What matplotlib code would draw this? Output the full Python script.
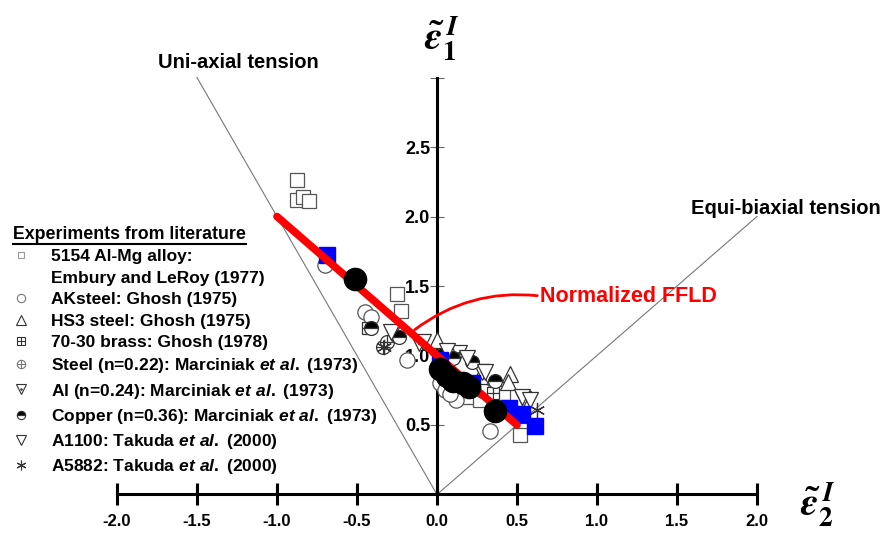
import matplotlib.pyplot as plt
import numpy as np
from matplotlib.lines import Line2D

plt.rcParams['font.family'] = 'Liberation Sans'
plt.rcParams['font.weight'] = 'bold'
plt.rcParams['mathtext.fontset'] = 'custom'
plt.rcParams['mathtext.it'] = 'Liberation Sans:italic:bold'
plt.rcParams['mathtext.rm'] = 'Liberation Sans:bold'

# data (normalized strains e2, e1)
almg_x = [-0.875, -0.875, -0.84, -0.80, -0.25, -0.225, 0.20, 0.27, 0.52, 0.41]
almg_y = [2.26, 2.12, 2.14, 2.11, 1.44, 1.32, 0.70, 0.68, 0.43, 0.73]
aks_x = [-0.70, -0.45, -0.41, -0.19, 0.02, 0.05, 0.12, 0.08, 0.33, 0.28]
aks_y = [1.65, 1.31, 1.28, 0.97, 0.80, 0.75, 0.68, 0.72, 0.46, 0.75]
hs3_x = [0.0, 0.455, 0.445, 0.27]
hs3_y = [1.11, 0.87, 0.81, 0.85]
brass_x = [-0.43, 0.35, 0.54, 0.42, 0.07]
brass_y = [1.20, 0.73, 0.56, 0.62, 0.95]
steel_x = [-0.34, -0.31]
steel_y = [1.06, 1.10]
al_x = [-0.28, -0.11, 0.14, 0.28, 0.54]
al_y = [1.16, 1.09, 1.02, 0.88, 0.69]
cu_x = [-0.41, -0.24, 0.03, 0.22, 0.36, 0.10]
cu_y = [1.20, 1.13, 1.00, 0.95, 0.82, 0.98]
a1100_x = [-0.29, -0.09, 0.06, 0.19, 0.53, 0.58, 0.30]
a1100_y = [1.17, 1.10, 1.03, 0.98, 0.70, 0.68, 0.88]
a5882_x = [0.625, -0.33]
a5882_y = [0.61, 1.06]
black_x = [-0.51, 0.36, 0.02, 0.06, 0.10, 0.16, 0.20]
black_y = [1.55, 0.60, 0.90, 0.85, 0.82, 0.80, 0.77]
blue_x = [-0.69, 0.02, 0.22, 0.45, 0.53, 0.61]
blue_y = [1.72, 0.97, 0.80, 0.62, 0.58, 0.49]

ffld_x = [-1.0, 0.5]
ffld_y = [2.0, 0.5]
uni_x = [0.0, -1.5]
uni_y = [0.0, 3.0]
equi_x = [0.0, 2.0]
equi_y = [0.0, 2.0]

x_ticks = [-2.0, -1.5, -1.0, -0.5, 0.0, 0.5, 1.0, 1.5, 2.0]
y_ticks = [0.5, 1.0, 1.5, 2.0, 2.5, 3.0]
y_tick_labels = ['0.5', '1.0', '1.5', '2.0', '2.5', '']

fig = plt.figure(figsize=(8.85, 5.36), dpi=100)
ax = fig.add_axes([0, 0, 1, 1])
ax.set_xlim(-2.731, 2.8)
ax.set_ylim(-0.2986, 3.5576)

for s in ['top', 'right']:
    ax.spines[s].set_visible(False)
ax.spines['left'].set_position(('data', 0))
ax.spines['bottom'].set_position(('data', 0))
ax.spines['left'].set_bounds(0, 3.0)
ax.spines['bottom'].set_bounds(-2, 2)
ax.spines['left'].set_linewidth(2.2)
ax.spines['bottom'].set_linewidth(2.2)

ax.set_xticks(x_ticks)
ax.set_xticklabels(['%.1f' % v for v in x_ticks])
ax.set_yticks(y_ticks)
ax.set_yticklabels(y_tick_labels)
ax.tick_params(axis='x', direction='inout', length=16, width=2.2, labelsize=12, pad=6)
ax.tick_params(axis='y', direction='inout', length=10, width=0.8, color='#666',
               labelsize=13, pad=0)

# reference lines
ax.plot(uni_x, uni_y, color='#777', lw=0.8, zorder=1)
ax.plot(equi_x, equi_y, color='#777', lw=0.8, zorder=1)

ek = '#333'
z = 3
ax.plot(almg_x, almg_y, 's', ms=10, mfc='white', mec='#555', mew=0.9, zorder=z)
ax.plot(aks_x, aks_y, 'o', ms=11, mfc='white', mec='#555', mew=0.9, zorder=z)
ax.plot(hs3_x, hs3_y, '^', ms=11, mfc='white', mec=ek, mew=0.9, zorder=z)
ax.plot(brass_x, brass_y, 's', ms=9, mfc='white', mec=ek, mew=0.9, zorder=z)
ax.plot(brass_x, brass_y, '+', ms=9, mec=ek, mew=0.9, zorder=z)
ax.plot(steel_x, steel_y, 'o', ms=10, mfc='white', mec=ek, mew=0.9, zorder=z)
ax.plot(steel_x, steel_y, '+', ms=10, mec=ek, mew=0.9, zorder=z)
ax.plot(al_x, al_y, 'v', ms=11, mfc='white', mec=ek, mew=0.9, zorder=z)
ax.plot(al_x, al_y, '.', ms=3, color=ek, zorder=z)
ax.plot(cu_x, cu_y, 'o', ms=10, mfc='black', mfcalt='white', fillstyle='top',
        mec=ek, mew=0.9, zorder=z)
ax.plot(a1100_x, a1100_y, 'v', ms=12, mfc='white', mec=ek, mew=0.9, zorder=z)
ax.plot(a5882_x, a5882_y, marker=(6, 2, 0), ls='none', ms=11, mec=ek, mew=0.9, zorder=z)
ax.plot(blue_x, blue_y, 's', ms=12, mfc='#0000ff', mec='#0000ff', zorder=4)

ax.plot(ffld_x, ffld_y, color='#ff0000', lw=5.5, solid_capstyle='round', zorder=5)
ax.plot(black_x, black_y, 'o', ms=16, mfc='black', mec='black', zorder=6)

# labels
ax.text(-1.244, 3.111, 'Uni-axial tension', fontsize=14.5, ha='center', va='center')
ax.text(2.181, 2.061, 'Equi-biaxial tension', fontsize=14.5, ha='center', va='center')
ax.annotate('Normalized FFLD', xy=(-0.14, 1.185), xytext=(0.644, 1.428),
            fontsize=15.5, color='#ff0000', ha='left', va='center',
            arrowprops=dict(arrowstyle='-', color='#ff0000', lw=2,
                            connectionstyle='arc3,rad=0.2', shrinkA=0, shrinkB=0,
                            relpos=(0, 0.5)))
ax.text(0.03, 3.27, r'$\tilde{\varepsilon}_{\mathit{1}}^{\,\mathit{I}}$', fontsize=28,
        ha='center', va='center', math_fontfamily='stix', fontweight='normal')
ax.text(2.38, -0.076, r'$\tilde{\varepsilon}_{\mathit{2}}^{\,\mathit{I}}$', fontsize=28,
        ha='center', va='center', math_fontfamily='stix', fontweight='normal')

# legend
def mk(marker, ms=6, **kw):
    kw.setdefault('mfc', 'white')
    kw.setdefault('mec', '#333')
    return Line2D([], [], ls='none', marker=marker, ms=ms, mew=0.8, **kw)

handles = [
    mk('s', 5, mec='#999'),
    Line2D([], [], ls='none'),
    mk('o', 6, mec='#777'),
    mk('^', 7),
    (mk('s', 6), mk('+', 6)),
    (mk('o', 6, mec='#777'), mk('+', 6, mec='#777')),
    (mk('v', 7), mk('.', 2)),
    mk('o', 6, mfc='black', fillstyle='top'),
    mk('v', 7),
    mk((6, 2, 0), 7),
]
labels = [
    '5154 Al-Mg alloy:',
    'Embury and LeRoy (1977)',
    'AKsteel: Ghosh (1975)',
    'HS3 steel: Ghosh (1975)',
    '70-30 brass: Ghosh (1978)',
    r'Steel (n=0.22): Marciniak $\mathit{et\ al.}$ (1973)',
    r'Al (n=0.24): Marciniak $\mathit{et\ al.}$ (1973)',
    r'Copper (n=0.36): Marciniak $\mathit{et\ al.}$ (1973)',
    r'A1100: Takuda $\mathit{et\ al.}$ (2000)',
    r'A5882: Takuda $\mathit{et\ al.}$ (2000)',
]
leg = fig.legend(handles, labels, loc='upper left', bbox_to_anchor=(13 / 885, 1 - 226 / 536),
                 frameon=False, fontsize=12.5, labelspacing=0.36, handlelength=0.9,
                 handletextpad=1.3, borderpad=0, borderaxespad=0,
                 title='Experiments from literature', alignment='left',
                 title_fontproperties={'weight': 'bold', 'size': 12.8})

fig.canvas.draw()
bb = leg.get_title().get_window_extent()
fig.add_artist(Line2D([bb.x0 / 885, bb.x1 / 885], [(bb.y0 - 1) / 536] * 2,
                      color='black', lw=1.5, transform=fig.transFigure))

fig.savefig('out.png', dpi=100)
